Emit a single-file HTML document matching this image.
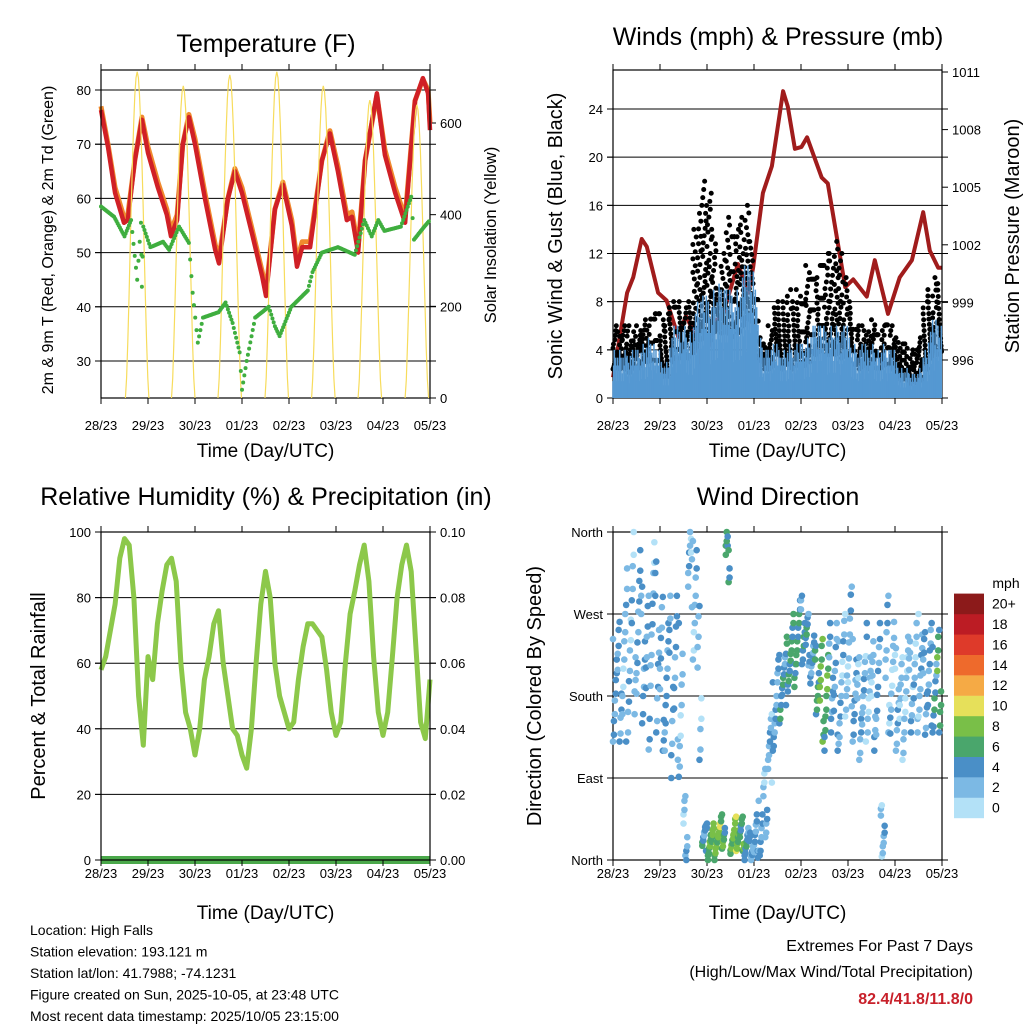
<!DOCTYPE html>
<html><head><meta charset="utf-8">
<style>
html,body{margin:0;padding:0;background:#fff;}
svg text{font-family:"Liberation Sans",sans-serif;fill:#000;}
</style></head>
<body>
<svg id="root" width="1024" height="1024" viewBox="0 0 1024 1024" xmlns="http://www.w3.org/2000/svg"></svg>
<script>
// ---------- DATA ----------
const dayLabels = ["28/23","29/23","30/23","01/23","02/23","03/23","04/23","05/23"];
const tempT = [0,0.15,0.3,0.49,0.57,0.72,0.87,1.0,1.21,1.4,1.49,1.62,1.74,1.87,2.0,2.21,2.43,2.51,2.7,2.85,3.0,3.21,3.43,3.51,3.7,3.87,4.06,4.17,4.28,4.45,4.7,4.87,5.04,5.23,5.34,5.47,5.62,5.87,6.04,6.26,6.47,6.68,6.85,6.96,7.0];
const temp2m = [76.3,69.5,61,55.5,56,67,74.5,68.4,62,57,53,56,70,75,70,60,50.5,48,60,65,61,53.6,45.6,42,58,62.5,55,47.4,51,51,67,72,65,56,56.6,50,67,79.4,68,61,55.5,78,82.2,79.4,72.6];
const temp9m = [77,70,62,56.5,57,67,75,69.5,63,58,54,57,70,75.5,71,61,51.5,49,60,65.5,62,54.5,46.5,43,58,63,56,48.5,52,52,67,72.5,66,57,57.5,51,67,79,69,62,56.5,78,82,80,74];
const dewT = [0,0.28,0.5,0.64,0.77,0.85,0.87,0.9,1.05,1.32,1.45,1.66,1.87,1.95,2.06,2.17,2.5,2.65,2.8,2.95,3.0,3.1,3.28,3.57,3.7,3.8,4.05,4.4,4.5,4.7,5.04,5.4,5.6,5.76,5.9,6.03,6.38,6.6,6.66,6.88,7.0];
const dewPt = [58.5,56.6,53,56,45,55.5,43.7,54.8,51,52,50.5,54.8,51.8,42.6,33.4,38,39,40.8,37,31.6,24.7,30,38,40,36.4,34.6,40,43,46.4,50,51,49.6,56,53,56,54,54.8,60.3,52.4,54.8,56];
const solarPeakT = [0.77,1.75,2.74,3.74,4.73,5.72,6.72];
const solarPeak = [712,681,705,712,681,650,640];
const windT = Array.from({length:71},(_,i)=>i/10);
const windMean = [4,4,4,3.5,4,4,4.5,5,4.5,4,3,3, 5,6,5.5,6,5.5, 7,8,8.5,8, 9,9.5,9,9,8.5,9, 10,11,10.5,9, 5,4,4,4.5,4,4,4.5,4,4.5,4.5, 5,6,6,6,5.5,6,6,5.5,6,5, 4.5,4,4.5,4,4.5,4,4.5,4,4,3, 2.5,2.5,2,2,2.5, 4,5.5,6.5,6,5];
const windGust = [6,5.5,6,6,5.5,6,6.5,6, 7,7,6.5,7, 8,8,8,7.5,8, 14,16,18,17, 14,9,12, 15,16,14,15,16,13,10, 5,4.5,6,7.5, 8,8,9,8,9, 10,11,11,10,11,12, 12,13,12,10,8, 7,6,6,5.5,6.5, 6.5,6,6.5,6,5, 4.5,4.5,4,4,5, 8,9,10,9.5,9];
const presT = [0,0.3,0.43,0.61,0.72,0.96,1.14,1.39,1.55,1.67,1.92,2.13,2.34,2.66,2.88,2.98,3.19,3.38,3.62,3.72,3.87,4.01,4.13,4.44,4.57,4.94,5.11,5.4,5.57,5.85,6.1,6.36,6.6,6.74,6.92,7.0];
const pressure = [995.1,999.5,1000.3,1002.3,1001.9,999.5,999.1,997.2,998.3,997.7,995.4,997.9,998.4,1001.0,999.5,1000.8,1004.7,1006.1,1010,1009.2,1007.0,1007.1,1007.6,1005.5,1005.2,999.8,1000.2,999.3,1001.2,998.4,1000.3,1001.2,1003.7,1001.7,1000.8,1000.8];
const rhT = Array.from({length:71},(_,i)=>i/10);
const rh = [58,62,70,78,92,98,96,80,50,35,62,55,72,82,90,92,85,60,45,40,32,40,55,62,72,76,60,50,40,38,32,28,40,60,78,88,80,60,50,45,40,42,55,65,72,72,70,68,58,45,38,42,60,75,82,90,96,85,62,45,38,45,62,80,90,96,88,65,42,37,55];
const precip = [0,0,0,0,0,0,0,0];
const dirCenter = [190,200,210,230,260,250,220,200,270,240,210,200,190,200,170,30,330,300,200,25,20,20,25,30,340,20,30,30,20,15,20,25,60,120,160,190,200,215,230,245,250,240,220,200,190,180,200,190,180,210,230,190,170,180,200,180,190,30,210,200,180,170,200,190,200,210,190,200,190,200,180];
const dirSpread = [60,70,80,90,100,90,80,90,90,100,90,80,100,90,90,40,60,80,90,15,20,20,15,20,40,15,20,20,20,15,30,40,40,40,40,40,30,30,40,40,40,30,30,40,60,60,60,70,60,60,70,60,60,50,60,60,70,30,80,70,60,60,60,50,60,60,60,60,50,60,40];
const dirSpeed = [3,3,2,2,2,3,3,3,2,3,3,3,3,3,2,2,2,2,2,4,6,7,8,6,5,7,8,6,4,3,3,3,2,2,3,4,4,5,5,5,4,4,3,5,7,6,3,3,2,2,2,3,2,2,2,2,3,2,2,2,2,1,1,2,2,2,3,3,4,6,4];
const cbLabels = ["0","2","4","6","8","10","12","14","16","18","20+"];
const cbColors = ["#b3e1f7","#7cb9e4","#4a8fc7","#4aa66c","#79bf48","#e6e05a","#f5aa45","#ee6a2c","#de3a2a","#bc1c24","#8c1a1a"];

// ---------- HELPERS ----------
const NS="http://www.w3.org/2000/svg";
const root=document.getElementById('root');
function el(tag,attrs,parent,txt){const e=document.createElementNS(NS,tag);for(const k in attrs)e.setAttribute(k,attrs[k]);if(txt!==undefined)e.textContent=txt;(parent||root).appendChild(e);return e;}
function grp(name){const g=el('g',{},root);return g;}
function linScale(d0,d1,r0,r1){return v=>r0+(v-d0)*(r1-r0)/(d1-d0);}
function text(g,x,y,s,size,anchor,name,rot,extra){const t=el('text',Object.assign({x:x,y:y,'font-size':size,'text-anchor':anchor||'middle'},extra||{}),g,s);if(rot)t.setAttribute('transform','rotate(-90 '+x+' '+y+')');return t;}
function pathOf(xs,ys,fx,fy){return xs.map((x,i)=>(i?'L':'M')+fx(x).toFixed(1)+' '+fy(ys[i]).toFixed(1)).join(' ');}

function frame(g,x0,x1,y0,y1,xs,prefix,lblOff){
  const f=el('rect',{x:x0,y:y0,width:x1-x0,height:y1-y0,fill:'none',stroke:'#000','stroke-width':1.2},g);
  
  dayLabels.forEach((d,i)=>{const x=xs(i);
    el('line',{x1:x,x2:x,y1:y1,y2:y1+6,stroke:'#000'},g);
    el('line',{x1:x,x2:x,y1:y0,y2:y0-6,stroke:'#000'},g);
    text(g,x,y1+lblOff,d,13,'middle',prefix+'-x-tick-label');});
  text(g,(x0+x1)/2,y1+59,'Time (Day/UTC)',19,'middle',prefix+'-x-axis-title');
}
function yTicks(g,x0,x1,ys,vals,labels,side,grid,prefix,size){
  vals.forEach((v,i)=>{const y=ys(v);
    if(grid) el('line',{x1:x0-6,x2:x1+6,y1:y,y2:y,stroke:'#000','stroke-width':1},g);
    if(side==='left'){el('line',{x1:x0-6,x2:x0,y1:y,y2:y,stroke:'#000'},g);text(g,x0-10,y+5,labels[i],size||13,'end',prefix+'-left-tick-label');}
    else {el('line',{x1:x1,x2:x1+6,y1:y,y2:y,stroke:'#000'},g);text(g,x1+10,y+5,labels[i],size||13,'start',prefix+'-right-tick-label');}
  });
}

// ---------- PANEL 1: TEMPERATURE ----------
(function(){
  const g=grp('temperature-panel');
  const x0=101,x1=430,y0=70,y1=398;
  const fx=linScale(0,7,x0,x1), fy=linScale(30,80,361,90), fs=linScale(0,600,398,123);
  text(g,266,52,'Temperature (F)',25,'middle','temperature-title');
  const vals=[30,40,50,60,70,80];
  yTicks(g,x0,x1,fy,vals,vals.map(String),'left',true,'temperature');
  const sv=[0,200,400,600];
  yTicks(g,x0,x1,fs,sv,sv.map(String),'right',false,'solar');
  const sg=grp('solar-insolation-series');
  solarPeakT.forEach((pt,i)=>{const xs=[],ys=[];for(let k=0;k<=20;k++){const t=pt-0.25+k*0.025;xs.push(t);ys.push(solarPeak[i]*Math.pow(Math.sin(Math.PI*k/20),1.5));}
    const p=el('path',{d:pathOf(xs,ys,fx,fs),fill:'none',stroke:'#f7dc5c','stroke-width':1.2},sg);
    });
  const p9=el('path',{d:pathOf(tempT,temp9m,fx,fy),fill:'none',stroke:'#f08a2e','stroke-width':5,'stroke-linejoin':'round'},g);
  
  const p2=el('path',{d:pathOf(tempT,temp2m,fx,fy),fill:'none',stroke:'#d02026','stroke-width':4.5,'stroke-linejoin':'round'},g);
  
  const dg=grp('dewpoint-series');
  for(let i=0;i<dewT.length-1;i++){const n=Math.max(2,Math.round((dewT[i+1]-dewT[i])*40));for(let k=0;k<n;k++){const f=k/n;const t=dewT[i]+(dewT[i+1]-dewT[i])*f,v=dewPt[i]+(dewPt[i+1]-dewPt[i])*f;
    const c=el('circle',{cx:fx(t),cy:fy(v),r:2,fill:'#3fae3f'},dg);
    }}
  frame(g,x0,x1,y0,y1,i=>fx(i),'temperature',32);
  text(g,53,240,'2m & 9m T (Red, Orange) & 2m Td (Green)',16,'middle','temperature-left-axis-title',true);
  text(g,496,235,'Solar Insolation (Yellow)',16.5,'middle','solar-right-axis-title',true);
})();

// ---------- PANEL 2: WINDS & PRESSURE ----------
(function(){
  const g=grp('winds-pressure-panel');
  const x0=613,x1=942,y0=70,y1=398;
  const fx=linScale(0,7,x0,x1), fy=linScale(0,24,398,109), fp=linScale(996,1011,360,72);
  text(g,778,45,'Winds (mph) & Pressure (mb)',25,'middle','winds-title');
  const vals=[0,4,8,12,16,20,24];
  yTicks(g,x0,x1,fy,vals,vals.map(String),'left',true,'wind');
  const pv=[996,999,1002,1005,1008,1011];
  yTicks(g,x0,x1,fp,pv,pv.map(String),'right',false,'pressure');
  const kg=grp('gust-series');
  windT.forEach((t,i)=>{if(i>=70)return;const lo=windMean[i]*0.6,hi=windGust[i];
    const n=Math.round(8+(hi-lo)*1.6);
    for(let k=0;k<n;k++){const tt=t+((k*7)%10)*0.01;const v=lo+(hi-lo)*Math.pow(((k*5+i)%n)/(n-1),1.5);
      const c=el('circle',{cx:fx(tt),cy:fy(v),r:2.5,fill:'#000'},kg);
      }});
  const bg=grp('sonic-wind-series');
  windT.forEach((t,i)=>{if(i>=70)return;for(let k=0;k<7;k++){const tt=t+k*0.0143;const top=windMean[i]*(0.35+0.65*((k*7+i*3)%5)/4);
    const l=el('line',{x1:fx(tt),x2:fx(tt),y1:fy(0),y2:fy(top),stroke:'#5598d2','stroke-width':1.5},bg);
    }});
  const pp=el('path',{d:pathOf(presT,pressure,fx,fp),fill:'none',stroke:'#a01c1c','stroke-width':4,'stroke-linejoin':'round'},g);
  
  frame(g,x0,x1,y0,y1,i=>fx(i),'winds',32);
  text(g,562,236,'Sonic Wind & Gust (Blue, Black)',20,'middle','wind-left-axis-title',true);
  text(g,1019,236,'Station Pressure (Maroon)',20,'middle','pressure-right-axis-title',true);
})();

// ---------- PANEL 3: RH & PRECIP ----------
(function(){
  const g=grp('humidity-precip-panel');
  const x0=101,x1=430,y0=532,y1=860;
  const fx=linScale(0,7,x0,x1), fy=linScale(0,100,860,532), fr=linScale(0,0.1,860,532);
  text(g,266,505,'Relative Humidity (%) & Precipitation (in)',25,'middle','humidity-title');
  const vals=[0,20,40,60,80,100];
  yTicks(g,x0,x1,fy,vals,vals.map(String),'left',true,'humidity');
  const rv=[0,0.02,0.04,0.06,0.08,0.1];
  yTicks(g,x0,x1,fr,rv,rv.map(v=>v.toFixed(2)),'right',false,'precip');
  const pr=el('path',{d:pathOf(precip.map((_,i)=>i),precip,fx,fr),fill:'none',stroke:'#4aa84a','stroke-width':8},g);
  
  const p=el('path',{d:pathOf(rhT,rh,fx,fy),fill:'none',stroke:'#8cc84a','stroke-width':5,'stroke-linejoin':'round'},g);
  
  frame(g,x0,x1,y0,y1,i=>fx(i),'humidity',18);
  text(g,45,696,'Percent & Total Rainfall',20,'middle','humidity-left-axis-title',true);
})();

// ---------- PANEL 4: WIND DIRECTION ----------
(function(){
  const g=grp('wind-direction-panel');
  const x0=613,x1=942,y0=532,y1=860;
  const fx=linScale(0,7,x0,x1), fy=linScale(0,360,860,532);
  text(g,778,505,'Wind Direction',25,'middle','wind-direction-title');
  const dv=[0,90,180,270,360];
  yTicks(g,x0,x1,fy,dv,['North','East','South','West','North'],'left',true,'direction');
  const cg=grp('direction-dots');
  dirCenter.forEach((d,i)=>{if(i>=70)return;for(let k=0;k<10;k++){
    const off=(((k*37+i*11)%17)/16-0.5)*2*dirSpread[i];let v=d+off;if(v<0)v=-v;if(v>360)v=720-v;
    const sp=Math.max(0,dirSpeed[i]+((k*3+i)%5-2)*0.6);const ci=Math.min(10,Math.round(sp/2));
    const c=el('circle',{cx:fx(i/10+(k%5)*0.02),cy:fy(v),r:3.3,fill:cbColors[ci]},cg);
    }});
  frame(g,x0,x1,y0,y1,i=>fx(i),'direction',18);
  text(g,541,696,'Direction (Colored By Speed)',20,'middle','direction-left-axis-title',true);
  const cb=grp('speed-colorbar');
  text(cb,1006,588,'mph',14,'middle','colorbar-title');
  cbColors.forEach((c,i)=>{const y=818-(i+1)*20.4;
    const r=el('rect',{x:954,y:y,width:30,height:20.6,fill:c},cb);
    
    text(cb,992,y+15,cbLabels[i],14,'start','colorbar-label');});
})();

// ---------- FOOTER ----------
(function(){
  const g=grp('station-info');
  const lines=['Location: High Falls','Station elevation: 193.121 m','Station lat/lon: 41.7988; -74.1231','Figure created on Sun, 2025-10-05, at 23:48 UTC','Most recent data timestamp: 2025/10/05 23:15:00'];
  lines.forEach((s,i)=>text(g,30,935+i*21.5,s,14,'start','station-info-line'));
  const e=grp('extremes');
  text(e,973,951,'Extremes For Past 7 Days',16,'end','extremes-title');
  text(e,973,977,'(High/Low/Max Wind/Total Precipitation)',16,'end','extremes-subtitle');
  const v=text(e,973,1004,'82.4/41.8/11.8/0',16,'end','extremes-values',false,{'font-weight':'bold'});
  v.setAttribute('style','fill:#c8202a');
})();
</script>
</body></html>
